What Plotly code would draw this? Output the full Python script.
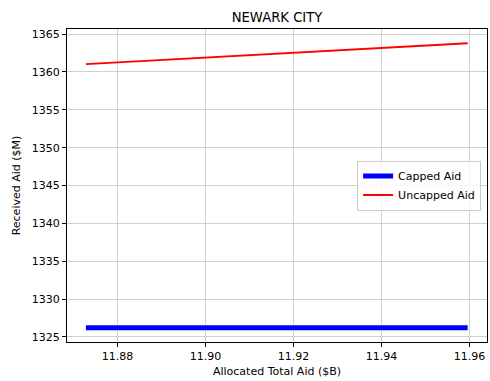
import plotly.graph_objects as go

# Allocated total aid ($B) and received aid ($M) for Newark City
allocated_total = [11.8728, 11.8945, 11.9162, 11.9379, 11.9596]
capped_aid = [1326.2, 1326.2, 1326.2, 1326.2, 1326.2]
uncapped_aid = [1361.05, 1361.75, 1362.45, 1363.1, 1363.8]

x_ticks = [11.88, 11.90, 11.92, 11.94, 11.96]
y_ticks = [1325, 1330, 1335, 1340, 1345, 1350, 1355, 1360, 1365]

font = dict(family="DejaVu Sans", size=11, color="black")

fig = go.Figure()
fig.add_trace(go.Scatter(x=allocated_total, y=capped_aid, mode="lines",
                         name="Capped Aid", line=dict(color="blue", width=5)))
fig.add_trace(go.Scatter(x=allocated_total, y=uncapped_aid, mode="lines",
                         name="Uncapped Aid", line=dict(color="red", width=1.8)))

axis_common = dict(showline=True, linecolor="black", linewidth=1, mirror=True,
                   ticks="outside", ticklen=4, tickcolor="black", tickwidth=1,
                   showgrid=True, gridcolor="#d0d0d0", gridwidth=1,
                   zeroline=False, tickfont=font)

fig.update_layout(
    width=490, height=381,
    margin=dict(l=67, r=3, t=29, b=39),
    paper_bgcolor="white", plot_bgcolor="white",
    font=font,
    title=dict(text="NEWARK CITY", x=(67 + 487) / 2 / 490, xanchor="center",
               y=1 - 17 / 381, yanchor="middle",
               font=dict(family="DejaVu Sans", size=13.2, color="black")),
    xaxis=dict(range=[11.8685, 11.964], tickvals=x_ticks,
               ticktext=[f"{v:.2f}" for v in x_ticks],
               title=dict(text="Allocated Total Aid ($B)", font=font, standoff=5),
               **axis_common),
    yaxis=dict(range=[1324.32, 1365.68], tickvals=y_ticks,
               title=dict(text="Received Aid ($M)", font=font, standoff=8),
               **axis_common),
    legend=dict(x=0.986, xanchor="right", y=0.5, yanchor="middle",
                bgcolor="rgba(255,255,255,0.8)", bordercolor="#cccccc",
                borderwidth=1, font=font, tracegroupgap=0),
    showlegend=True,
)

fig.write_html("out.html")
